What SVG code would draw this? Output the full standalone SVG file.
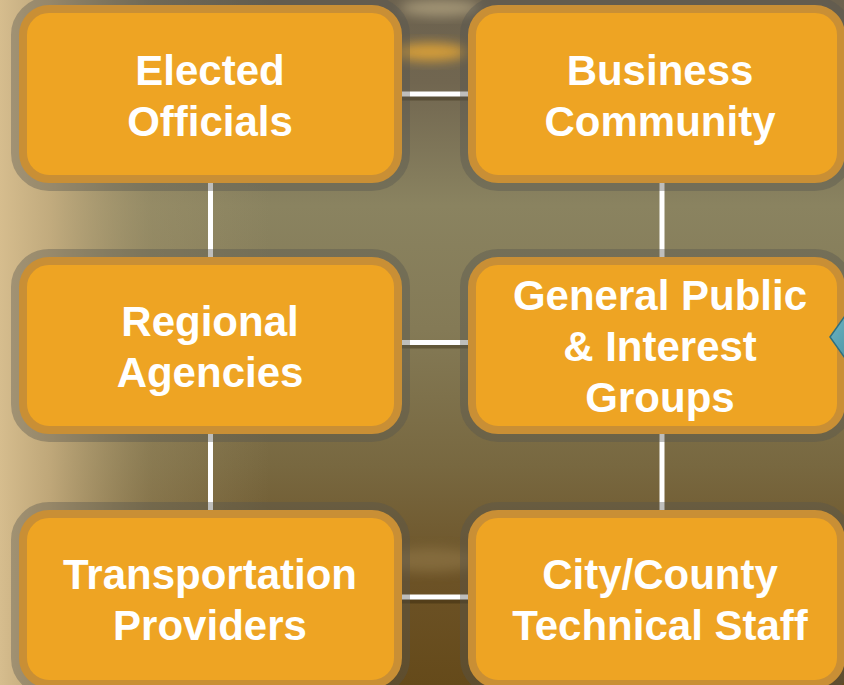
<svg xmlns="http://www.w3.org/2000/svg" width="844" height="685" viewBox="0 0 844 685">
  <defs>
    <linearGradient id="bgV" x1="0" y1="0" x2="0" y2="1">
      <stop offset="0" stop-color="#6c624f"/>
      <stop offset="0.12" stop-color="#716650"/>
      <stop offset="0.3" stop-color="#8a8360"/>
      <stop offset="0.48" stop-color="#847a56"/>
      <stop offset="0.68" stop-color="#786840"/>
      <stop offset="0.85" stop-color="#6c5226"/>
      <stop offset="1" stop-color="#654a1a"/>
    </linearGradient>
    <linearGradient id="bgH" x1="0" y1="0" x2="1" y2="0">
      <stop offset="0" stop-color="#d6bd8e" stop-opacity="1"/>
      <stop offset="0.06" stop-color="#cbb283" stop-opacity="0.85"/>
      <stop offset="0.18" stop-color="#a99a70" stop-opacity="0.35"/>
      <stop offset="0.32" stop-color="#a99a70" stop-opacity="0"/>
    </linearGradient>
    <filter id="blur" x="-50%" y="-50%" width="200%" height="200%">
      <feGaussianBlur stdDeviation="6"/>
    </filter>
    <linearGradient id="diam" x1="0" y1="0" x2="1" y2="1">
      <stop offset="0" stop-color="#6fb7c4"/>
      <stop offset="1" stop-color="#3d8596"/>
    </linearGradient>
  </defs>
  <style>
    .halo { fill: none; stroke: rgba(85,85,80,0.38); stroke-width: 24; }
    .box { fill: #eea423; stroke: #c98f35; stroke-width: 8; }
    .lbl { font-family: "Liberation Sans", Arial, sans-serif; font-weight: bold; font-size: 42px; fill: #ffffff; text-anchor: middle; }
    .conn { stroke: #ffffff; stroke-width: 5; fill: none; }
    .shadow { stroke: rgba(40,30,10,0.35); stroke-width: 5; fill: none; }
  </style>

  <!-- background -->
  <rect x="0" y="0" width="844" height="685" fill="url(#bgV)"/>
  <ellipse cx="430" cy="52" rx="38" ry="9" fill="#e8a834" opacity="0.85" filter="url(#blur)"/>
  <ellipse cx="440" cy="8" rx="40" ry="8" fill="#c8b890" opacity="0.6" filter="url(#blur)"/>
  <ellipse cx="430" cy="560" rx="50" ry="12" fill="#9a8050" opacity="0.5" filter="url(#blur)"/>
  <rect x="0" y="0" width="844" height="685" fill="url(#bgH)"/>

  <!-- connectors -->
  <g id="connectors">
    <line class="shadow" x1="402" y1="98" x2="468" y2="98"/>
    <line class="shadow" x1="402" y1="346" x2="468" y2="346"/>
    <line class="shadow" x1="402" y1="601" x2="468" y2="601"/>
    <line class="conn" x1="400" y1="94" x2="470" y2="94"/>
    <line class="conn" x1="400" y1="342.5" x2="470" y2="342.5"/>
    <line class="conn" x1="400" y1="597" x2="470" y2="597"/>
    <line class="conn" x1="210.5" y1="180" x2="210.5" y2="260"/>
    <line class="conn" x1="210.5" y1="430" x2="210.5" y2="513"/>
    <line class="conn" x1="662" y1="180" x2="662" y2="260"/>
    <line class="conn" x1="662" y1="430" x2="662" y2="513"/>
  </g>

  <g id="elected-officials">
    <rect class="halo" x="23" y="9" width="375" height="170" rx="26"/>
    <rect class="box" x="23" y="9" width="375" height="170" rx="26"/>
    <text class="lbl" x="210" y="85">Elected</text>
    <text class="lbl" x="210" y="136">Officials</text>
  </g>

  <g id="business-community">
    <rect class="halo" x="472" y="9" width="369" height="170" rx="26"/>
    <rect class="box" x="472" y="9" width="369" height="170" rx="26"/>
    <text class="lbl" x="660" y="85">Business</text>
    <text class="lbl" x="660" y="136">Community</text>
  </g>

  <g id="regional-agencies">
    <rect class="halo" x="23" y="261" width="375" height="169" rx="26"/>
    <rect class="box" x="23" y="261" width="375" height="169" rx="26"/>
    <text class="lbl" x="210" y="336">Regional</text>
    <text class="lbl" x="210" y="387">Agencies</text>
  </g>

  <g id="general-public">
    <rect class="halo" x="472" y="261" width="369" height="169" rx="26"/>
    <rect class="box" x="472" y="261" width="369" height="169" rx="26"/>
    <text class="lbl" x="660" y="310">General Public</text>
    <text class="lbl" x="660" y="361">&amp; Interest</text>
    <text class="lbl" x="660" y="412">Groups</text>
  </g>

  <g id="transportation-providers">
    <rect class="halo" x="23" y="514" width="375" height="170" rx="26"/>
    <rect class="box" x="23" y="514" width="375" height="170" rx="26"/>
    <text class="lbl" x="210" y="589">Transportation</text>
    <text class="lbl" x="210" y="640">Providers</text>
  </g>

  <g id="city-county-staff">
    <rect class="halo" x="472" y="514" width="369" height="170" rx="26"/>
    <rect class="box" x="472" y="514" width="369" height="170" rx="26"/>
    <text class="lbl" x="660" y="589">City/County</text>
    <text class="lbl" x="660" y="640">Technical Staff</text>
  </g>

  <!-- partial teal diamond at right edge -->
  <polygon points="830,337 852,306 874,337 852,368" fill="url(#diam)" stroke="#2f6f7e" stroke-width="1.5"/>
</svg>
